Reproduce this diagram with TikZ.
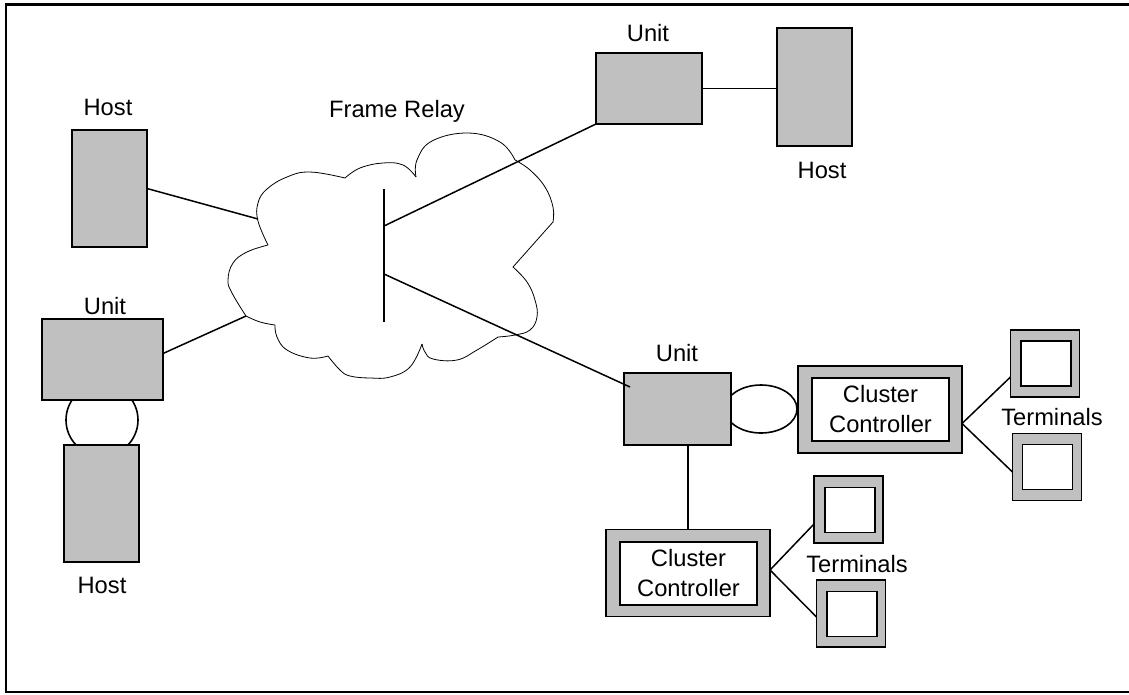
\documentclass[tikz,border=0pt]{standalone}
\usepackage{fontspec}
\setmainfont{Liberation Sans}
\usetikzlibrary{calc,shapes.geometric}
\definecolor{boxgray}{RGB}{192,192,192}

\begin{document}
\begin{tikzpicture}[x=1pt,y=-1pt,
  every node/.style={inner sep=0pt, outer sep=0pt},
  grayblock/.style={draw=black, fill=boxgray, line width=1.7pt, rectangle},
  screen/.style={draw=black, fill=white, line width=1.7pt, rectangle},
  termouter/.style={grayblock, minimum width=69, minimum height=67},
  terminner/.style={screen, minimum width=50, minimum height=45},
  ccouter/.style={grayblock, minimum width=164, minimum height=87},
  ccinner/.style={screen, minimum width=137, minimum height=63, align=center,
                  font=\fontsize{23.7}{30}\selectfont},
  link/.style={line width=1.5pt},
  lbl/.style={font=\fontsize{23.7}{30}\selectfont, anchor=base},
  loopline/.style={draw=black, fill=white, line width=1.6pt},
  cloudline/.style={line width=0.8pt, line join=round},
]
\useasboundingbox (0,0) rectangle (1129,694);

% page frame (open on the right)
\draw[line width=2.4pt] (1135,4.5) -- (6,4.5) -- (6,692) -- (1135,692);

% ---- frame relay cloud ----
\begin{scope}[cloudline]
\draw plot[smooth, tension=0.7] coordinates {(268,245) (258,221) (258,203) (267,189) (287,177) (310,172) (345,178)};
\draw plot[smooth, tension=0.7] coordinates {(345,178) (360,168) (383,163) (403,165) (416,177)};
\draw plot[smooth, tension=0.7] coordinates {(416,177) (417,160) (432,141) (468,133) (500,142) (515,160)};
\draw plot[smooth, tension=0.7] coordinates {(515,160) (530,170) (545,187) (553,207) (553,222)};
\draw (553,222) -- (513,267);
\draw plot[smooth, tension=0.7] coordinates {(513,267) (527,282) (535,300) (537,317) (530,330) (515,335) (498,337)};
\draw plot[smooth, tension=0.7] coordinates {(498,337) (477,350) (457,360) (433,359) (425,352) (422,344)};
\draw plot[smooth, tension=0.7] coordinates {(422,344) (410,367) (390,377) (370,378) (350,376) (340,370) (328,356)};
\draw plot[smooth, tension=0.7] coordinates {(328,356) (310,358) (287,350) (277,337) (275,325)};
\draw plot[smooth, tension=0.7] coordinates {(275,325) (260,322) (246,316)};
\draw plot[smooth, tension=0.7] coordinates {(246,316) (232,293) (228,280) (233,263) (247,252) (268,245)};
\end{scope}
\node[lbl] (lblFR) at (397,117) {Frame Relay};

% switching bar inside the cloud
\coordinate (barTop) at (384,189);
\coordinate (barBot) at (384,322);
\coordinate (jUp) at (384,226);
\coordinate (jDn) at (384,274);
\coordinate (cloudA) at (258,219);
\coordinate (cloudB) at (246,316);
\draw[link] (barTop) -- (barBot);

% ---- left side: host, unit and host ----
\node[loopline, circle, minimum size=72] (loopL) at (102,420) {};
\node[grayblock, minimum width=75, minimum height=117] (hostTL) at (109.5,188.5) {};
\node[grayblock, minimum width=121, minimum height=81] (unitL) at (102.5,359.5) {};
\node[grayblock, minimum width=75, minimum height=117] (hostBL) at (101.5,503.5) {};
\node[lbl] (lblHostTL) at (108,115) {Host};
\node[lbl] (lblUnitL) at (105,314) {Unit};
\node[lbl] (lblHostBL) at (102,593) {Host};

\draw[link] (hostTL.east) -- (cloudA);
\draw[link] ($(unitL.east)+(0,-6)$) -- (cloudB);

% ---- top right: unit and host ----
\node[grayblock, minimum width=106, minimum height=71] (unitT) at (649,88.5) {};
\node[grayblock, minimum width=75, minimum height=118] (hostTR) at (814.5,87) {};
\node[lbl] (lblUnitT) at (648,41) {Unit};
\node[lbl] (lblHostTR) at (822,178) {Host};
\draw[link] (jUp) -- (unitT.south west);
\draw[link] (unitT.east) -- (unitT.east -| hostTR.west);

% ---- right: unit with cluster controllers ----
\node[loopline, ellipse, minimum width=72, minimum height=48] (loopR) at (761,409) {};
\node[grayblock, minimum width=107, minimum height=72] (unitR) at (677.5,409) {};
\node[lbl] (lblUnitR) at (677,361) {Unit};
\draw[link] (jDn) -- ($(unitR.north west)+(6,14)$);

\node[ccouter] (cc1) at (880,409.5) {};
\node[ccinner] (cc1in) at (880.5,409.5) {Cluster\\Controller};
\node[ccouter] (cc2) at (688,573) {};
\node[ccinner] (cc2in) at (688.5,573.5) {Cluster\\Controller};
\draw[link] (cc2.north) -- (cc2.north |- unitR.south);

% terminals
\node[termouter] (term1) at (1045,363.5) {};
\node[terminner] (term1in) at (1046,363.5) {};
\node[termouter] (term2) at (1047,467) {};
\node[terminner] (term2in) at (1047.5,467) {};
\node[termouter] (term3) at (848.5,509.5) {};
\node[terminner] (term3in) at (850,510) {};
\node[termouter] (term4) at (851,613.5) {};
\node[terminner] (term4in) at (852,614) {};
\node[lbl] (lblTermA) at (1052,425) {Terminals};
\node[lbl] (lblTermB) at (857,572) {Terminals};

\coordinate (cc1tap) at ($(cc1.east)+(0,14)$);
\coordinate (cc2tap) at ($(cc2.east)+(0,-3)$);
\draw[link] (cc1tap) -- ($(term1.west)+(0,13.5)$);
\draw[link] (cc1tap) -- ($(term2.west)+(0,5)$);
\draw[link] (cc2tap) -- ($(term3.west)+(0,14.5)$);
\draw[link] (cc2tap) -- ($(term4.west)+(0,3.5)$);
\end{tikzpicture}
\end{document}
